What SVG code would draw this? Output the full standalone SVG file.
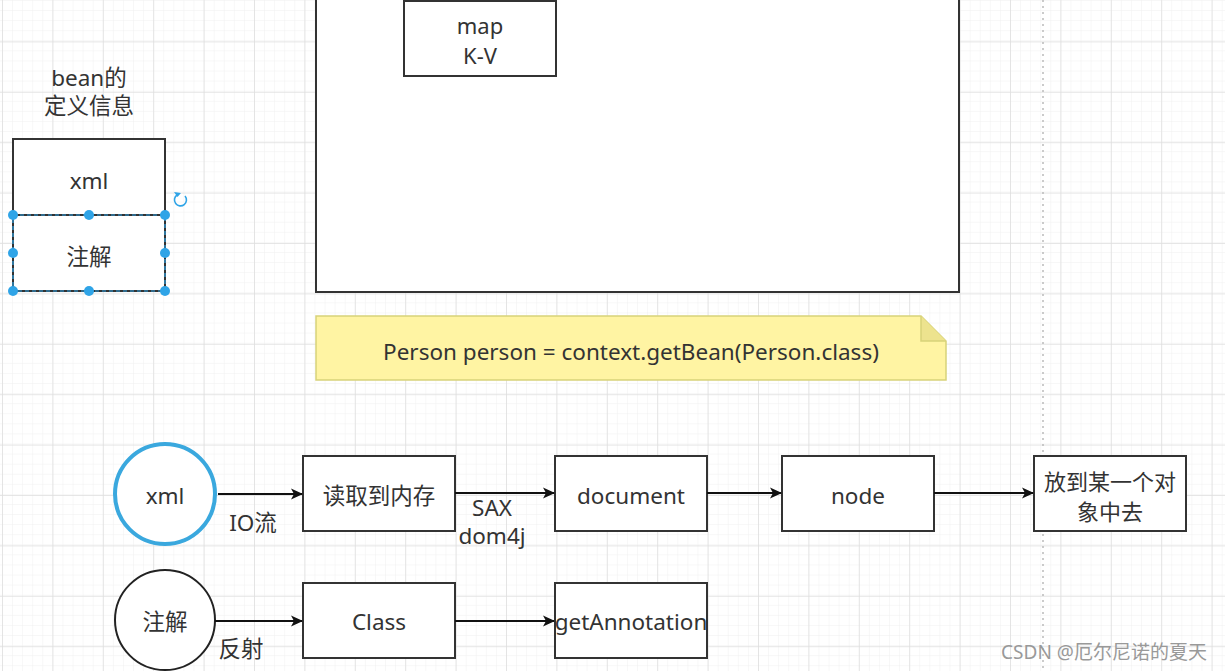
<svg xmlns="http://www.w3.org/2000/svg" width="1225" height="671" viewBox="0 0 1225 671">
<defs>
<pattern id="minor" x="2" y="0" width="10.08" height="10.08" patternUnits="userSpaceOnUse">
<path d="M0 0V10.08M0 0H10.08" stroke="#f0f0f0" stroke-width="1" fill="none"/>
</pattern>
<pattern id="major" x="2" y="-9" width="50.4" height="50.4" patternUnits="userSpaceOnUse">
<path d="M0 0V50.4M0 0H50.4" stroke="#dedede" stroke-width="1.5" fill="none"/>
</pattern>
<marker id="arr" viewBox="0 0 12 12" refX="11" refY="6" markerWidth="12" markerHeight="12" markerUnits="userSpaceOnUse" orient="auto">
<path d="M0 0.5L12 6L0 11.5L3 6Z" fill="#111"/>
</marker>
</defs>
<style>
text{font-family:"Noto Sans","Noto Sans CJK SC",sans-serif;font-size:22.5px;fill:#333;text-anchor:middle;dominant-baseline:central}
.two{font-size:22px}
.box{fill:#fff;stroke:#333;stroke-width:2}
.edge{stroke:#111;stroke-width:2;fill:none;marker-end:url(#arr)}
.h{fill:#2fa4e7}
</style>
<rect width="1225" height="671" fill="#fff"/>
<rect width="1225" height="671" fill="url(#minor)"/>
<rect width="1225" height="671" fill="url(#major)"/>
<line x1="1043" y1="0" x2="1043" y2="671" stroke="#bbb" stroke-width="1.5" stroke-dasharray="2 4"/>

<g id="title">
<text x="89" y="77">bean的<tspan x="89" dy="28">定义信息</tspan></text>
</g>
<g id="xmlDef">
<rect class="box" x="13" y="139" width="152" height="76"/>
<text x="89" y="180">xml</text>
</g>
<g id="annoDef">
<rect x="13" y="215" width="152" height="76" fill="#fff" stroke="#333" stroke-width="2"/>
<rect x="13" y="215" width="152" height="76" fill="none" stroke="#2fa4e7" stroke-width="1.2" stroke-dasharray="4 3"/>
<text x="89" y="256">注解</text>
<circle class="h" cx="13" cy="215" r="5"/><circle class="h" cx="89" cy="215" r="5"/><circle class="h" cx="165" cy="215" r="5"/>
<circle class="h" cx="13" cy="253" r="5"/><circle class="h" cx="165" cy="253" r="5"/>
<circle class="h" cx="13" cy="291" r="5"/><circle class="h" cx="89" cy="291" r="5"/><circle class="h" cx="165" cy="291" r="5"/>
<path d="M185 196A6 6 0 1 1 177 195" fill="none" stroke="#2fa4e7" stroke-width="1.6"/>
<path d="M174 192L177.5 197L181 193Z" fill="#2fa4e7"/>
</g>
<g id="container">
<rect class="box" x="316" y="-10" width="643" height="302"/>
</g>
<g id="map">
<rect class="box" x="404" y="1" width="152" height="75"/>
<text class="two" x="480" y="25">map<tspan x="480" dy="30">K-V</tspan></text>
</g>
<g id="note">
<path d="M316 316H921L946 341V380H316Z" fill="#fff4a3" stroke="#d8d27a" stroke-width="1.5"/>
<path d="M921 316V341H946" fill="#ede38e" stroke="#d8d27a" stroke-width="1.5"/>
<text x="631" y="351">Person person = context.getBean(Person.class)</text>
</g>
<g id="xmlCircle">
<circle cx="165" cy="494" r="50" fill="#fff" stroke="#3aa8de" stroke-width="4"/>
<text x="165" y="495">xml</text>
</g>
<g id="read">
<rect class="box" x="303" y="456" width="152" height="75"/>
<text x="379" y="495">读取到内存</text>
</g>
<g id="document">
<rect class="box" x="555" y="456" width="152" height="75"/>
<text x="631" y="495">document</text>
</g>
<g id="node">
<rect class="box" x="782" y="456" width="152" height="75"/>
<text x="858" y="495">node</text>
</g>
<g id="put">
<rect class="box" x="1034" y="456" width="152" height="75"/>
<text class="two" x="1110" y="481">放到某一个对<tspan x="1110" dy="30">象中去</tspan></text>
</g>
<g id="annoCircle">
<circle cx="165" cy="620" r="50" fill="#fff" stroke="#222" stroke-width="2"/>
<text x="165" y="621">注解</text>
</g>
<g id="class">
<rect class="box" x="303" y="583" width="152" height="75"/>
<text x="379" y="621">Class</text>
</g>
<g id="getAnnotation">
<rect class="box" x="555" y="583" width="152" height="75"/>
<text x="631" y="621">getAnnotation</text>
</g>
<g id="connectors">
<line class="edge" x1="218" y1="494" x2="302" y2="494"/>
<line class="edge" x1="455" y1="493" x2="554" y2="493"/>
<line class="edge" x1="707" y1="493" x2="781" y2="493"/>
<line class="edge" x1="934" y1="493" x2="1033" y2="493"/>
<line class="edge" x1="215" y1="621" x2="302" y2="621"/>
<line class="edge" x1="455" y1="621" x2="554" y2="621"/>
<text x="253" y="522">IO流</text>
<text x="492" y="507">SAX<tspan x="492" dy="28">dom4j</tspan></text>
<text x="241" y="648">反射</text>
</g>
<text x="1104" y="652" style="font-size:19px;fill:#999">CSDN @厄尔尼诺的夏天</text>
</svg>
